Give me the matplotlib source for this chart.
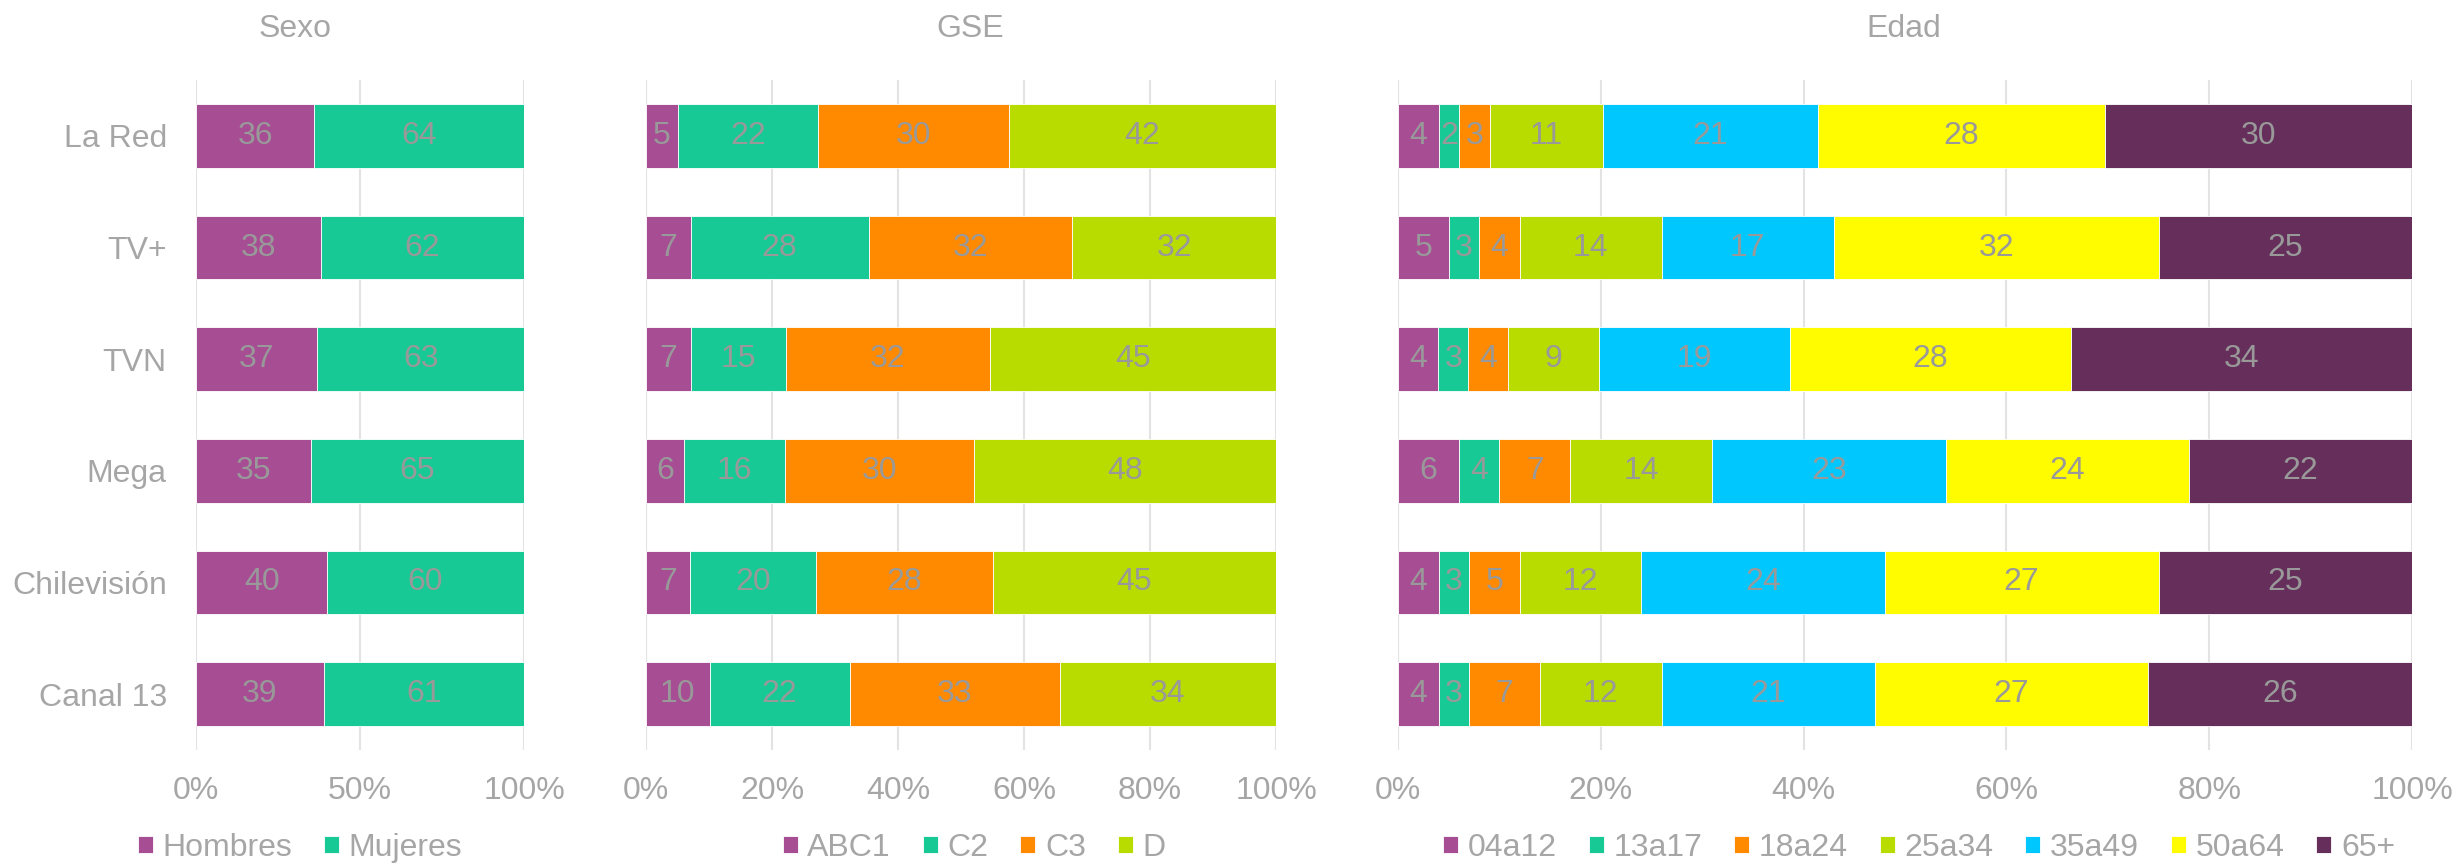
import numpy as np
import matplotlib
matplotlib.use("Agg")
import matplotlib.pyplot as plt

plt.rcParams['font.family'] = ['Liberation Sans', 'DejaVu Sans']

canales = ["La Red", "TV+", "TVN", "Mega", "Chilevisión", "Canal 13"]

sexo_labels = ["Hombres", "Mujeres"]
hombres = [36, 38, 37, 35, 40, 39]
mujeres = [64, 62, 63, 65, 60, 61]

gse_labels = ["ABC1", "C2", "C3", "D"]
abc1 = [5, 7, 7, 6, 7, 10]
c2 = [22, 28, 15, 16, 20, 22]
c3 = [30, 32, 32, 30, 28, 33]
d = [42, 32, 45, 48, 45, 34]

edad_labels = ["04a12", "13a17", "18a24", "25a34", "35a49", "50a64", "65+"]
e04a12 = [4, 5, 4, 6, 4, 4]
e13a17 = [2, 3, 3, 4, 3, 3]
e18a24 = [3, 4, 4, 7, 5, 7]
e25a34 = [11, 14, 9, 14, 12, 12]
e35a49 = [21, 17, 19, 23, 24, 21]
e50a64 = [28, 32, 28, 24, 27, 27]
e65 = [30, 25, 34, 22, 25, 26]

purple = '#A64D94'
green = '#16C995'
orange = '#FF8A00'
lime = '#B8DC00'
cyan = '#00C8FF'
yellow = '#FFFC00'
dark = '#652E5B'

txt = '#A6A6A6'
val_col = '#999999'
fs = 23

W, H = 2459, 865
fig = plt.figure(figsize=(W / 100, H / 100), dpi=100)


def stacked(ax, series, names, colors, ticks):
    data = np.array(series, dtype=float)
    totals = data.sum(axis=0)
    y = np.arange(len(canales))
    left = np.zeros(len(canales))
    handles = []
    for vals, name, col in zip(data, names, colors):
        w = vals / totals * 100
        b = ax.barh(y, w, left=left, height=0.57, color=col,
                    edgecolor='white', linewidth=0.6, label=name, zorder=2)
        handles.append(b)
        for yi, li, wi, v in zip(y, left, w, vals):
            ax.text(li + wi / 2, yi, f"{int(v)}", ha='center', va='center',
                    color=val_col, fontsize=fs, zorder=3)
        left += w
    ax.set_xlim(0, 100)
    ax.set_ylim(len(canales) - 0.5, -0.5)
    ax.set_xticks(ticks)
    ax.set_xticklabels([f"{t}%" for t in ticks])
    ax.set_yticks(y)
    ax.set_yticklabels(canales)
    ax.tick_params(axis='both', length=0, labelsize=fs, labelcolor=txt)
    ax.tick_params(axis='x', pad=19)
    ax.tick_params(axis='y', pad=21)
    ax.grid(axis='x', color='#E3E3E3', linewidth=1.5, zorder=0)
    ax.set_axisbelow(True)
    for s in ax.spines.values():
        s.set_visible(False)
    return handles


def axpos(x0, x1):
    return [x0 / W, 1 - 750 / H, (x1 - x0) / W, (750 - 80) / H]


ax1 = fig.add_axes(axpos(196, 524))
ax2 = fig.add_axes(axpos(646, 1276))
ax3 = fig.add_axes(axpos(1398, 2412))

h1 = stacked(ax1, [hombres, mujeres], sexo_labels, [purple, green], [0, 50, 100])
h2 = stacked(ax2, [abc1, c2, c3, d], gse_labels, [purple, green, orange, lime],
             [0, 20, 40, 60, 80, 100])
h3 = stacked(ax3, [e04a12, e13a17, e18a24, e25a34, e35a49, e50a64, e65], edad_labels,
             [purple, green, orange, lime, cyan, yellow, dark],
             [0, 20, 40, 60, 80, 100])
ax2.set_yticklabels([])
ax3.set_yticklabels([])

for title, xc in [("Sexo", 295), ("GSE", 970), ("Edad", 1904)]:
    fig.text(xc / W, 1 - 29 / H, title, ha='center', va='center',
             color=txt, fontsize=fs)

for hs, names, xc in [(h1, sexo_labels, 300), (h2, gse_labels, 974), (h3, edad_labels, 1919)]:
    fig.legend(hs, names, loc='center', bbox_to_anchor=(xc / W, 1 - 848 / H),
               ncol=len(names), frameon=False, fontsize=fs, labelcolor=txt,
               handlelength=0.47, handleheight=0.47, handletextpad=0.3,
               columnspacing=1.0, borderpad=0, borderaxespad=0)

fig.savefig("out.png", dpi=100)
